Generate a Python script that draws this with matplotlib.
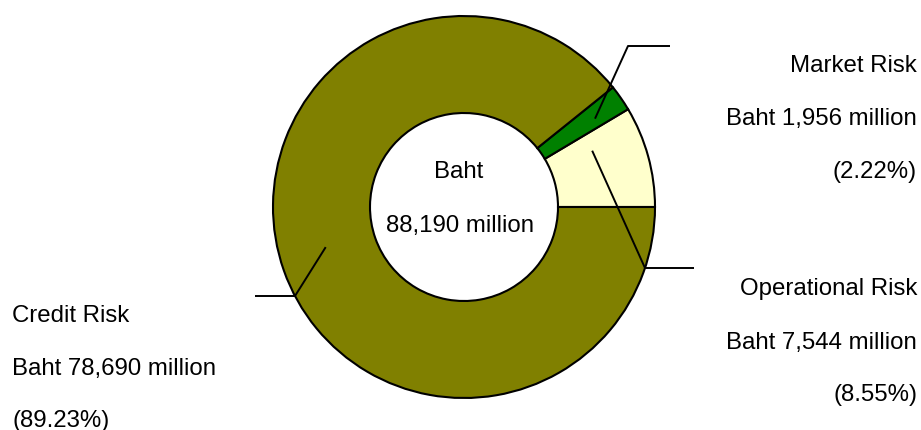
import matplotlib.pyplot as plt
import numpy as np

# capital requirement by risk type (Baht million)
risk_types = ['Operational Risk', 'Market Risk', 'Credit Risk']
amounts = [7544, 1956, 78690]
colors = ['#FFFFCC', '#008000', '#808000']

total = sum(amounts)

plt.rcParams['font.family'] = ['Liberation Sans', 'DejaVu Sans']
fs = 17.3

fig = plt.figure(figsize=(9.21, 4.30), dpi=100)
ax = fig.add_axes([0, 0, 1, 1])

cx, cy, R = 464, 207, 191
# y axis runs downward, so clockwise in data is counterclockwise on screen
wedges, _ = ax.pie(amounts, colors=colors, startangle=0, counterclock=False,
                   center=(cx, cy), radius=R, frame=True,
                   wedgeprops=dict(width=97, edgecolor='black', linewidth=1.5))
ax.set_xlim(0, 921)
ax.set_ylim(430, 0)
ax.set_aspect('equal')
ax.axis('off')

# leader lines: (fraction along wedge, radius, elbow point, end x)
leaders = {
    'Operational Risk': (0.23, 140, (645, 268), 694),
    'Market Risk': (0.6, 158, (628, 46), 670),
    'Credit Risk': (0.51, 144, (295, 296), 255),
}
for w, name in zip(wedges, risk_types):
    frac, r, (ex, ey), endx = leaders[name]
    ang = np.deg2rad(w.theta1 + frac * (w.theta2 - w.theta1))
    sx = cx + r * np.cos(ang)
    sy = cy + r * np.sin(ang)
    ax.plot([sx, ex, endx], [sy, ey, ey], color='black', linewidth=1.4,
            solid_capstyle='butt')

# labels
label_pos = {
    'Operational Risk': (917, 287, 'right'),
    'Market Risk': (917, 63.5, 'right'),
    'Credit Risk': (12, 313, 'left'),
}
for name, amt in zip(risk_types, amounts):
    x, y, ha = label_pos[name]
    lines = [name, f'Baht {amt:,} million', f'({amt / total * 100:.2f}%)']
    for i, t in enumerate(lines):
        ax.text(x, y + i * 53, t, ha=ha, va='center_baseline', fontsize=fs,
                color='black')

ax.text(459, 169, 'Baht', ha='center', va='center_baseline', fontsize=fs)
ax.text(460, 223.5, f'{total:,} million', ha='center', va='center_baseline',
        fontsize=fs)

fig.savefig('out.png', dpi=100)
